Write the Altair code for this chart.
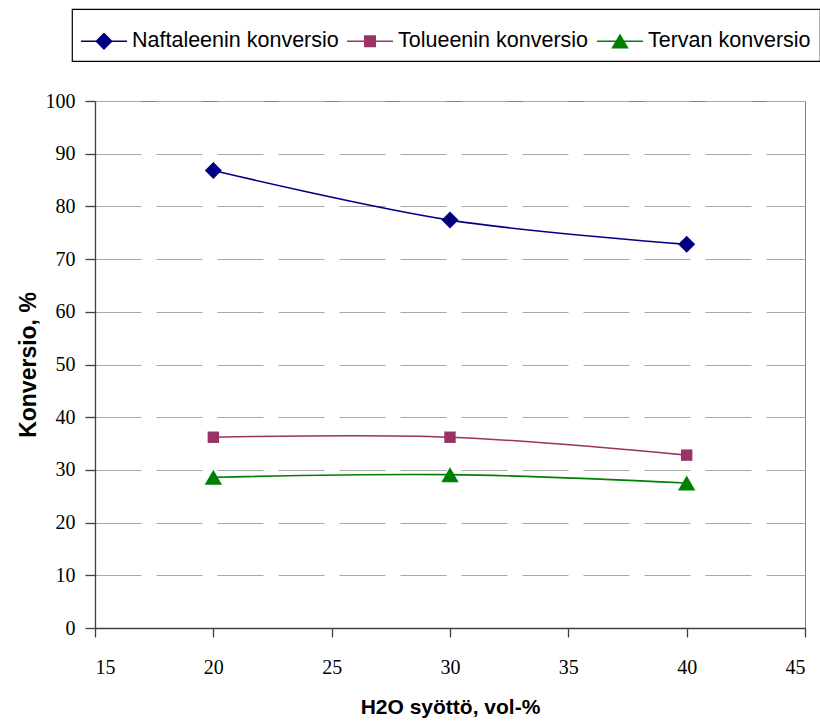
import altair as alt
import pandas as pd

# ---- data ----
x_vals = [20, 30, 40]
naftaleeni = [86.8, 77.4, 72.8]
tolueeni = [36.2, 36.2, 32.8]
terva = [28.6, 29.1, 27.5]

series_names = ["Naftaleenin konversio", "Tolueenin konversio", "Tervan konversio"]
series_values = [naftaleeni, tolueeni, terva]
series_colors = ["#000080", "#993366", "#008000"]
series_shapes = ["diamond", "square", "triangle-up"]
series_sizes = [290, 130, 300]

x_ticks = [15, 20, 25, 30, 35, 40, 45]
y_ticks = [0, 10, 20, 30, 40, 50, 60, 70, 80, 90, 100]

# legend symbols: line segment + marker (custom SVG paths in unit box)
legend_paths = [
    "M-1,-0.035H1V0.035H-1Z M0,-0.38L0.38,0L0,0.38L-0.38,0Z",
    "M-1,-0.035H1V0.035H-1Z M-0.26,-0.26H0.26V0.26H-0.26Z",
    "M-1,-0.035H1V0.035H-1Z M0,-0.34L0.38,0.32H-0.38Z",
]

rows = []
for name, vals in zip(series_names, series_values):
    for xv, yv in zip(x_vals, vals):
        rows.append({"serie": name, "x": xv, "y": yv})
df = pd.DataFrame(rows)
legend_df = pd.DataFrame({"serie": series_names})

SERIF = "Liberation Serif"

x_enc = alt.X(
    "x:Q",
    scale=alt.Scale(domain=[15, 45], nice=False, zero=False),
    axis=alt.Axis(
        title="H2O syöttö, vol-%",
        values=x_ticks,
        grid=False,
        tickSize=9,
        labelPadding=20,
        labelFont=SERIF,
        labelFontSize=20,
        titlePadding=19,
        titleFontSize=21,
    ),
)
y_enc = alt.Y(
    "y:Q",
    scale=alt.Scale(domain=[0, 100], nice=False),
    axis=alt.Axis(
        title="Konversio, %",
        values=y_ticks,
        grid=True,
        gridColor="#a8a8a8",
        gridDash=[46, 15],
        gridWidth=1,
        tickSize=10,
        labelPadding=10,
        labelFont=SERIF,
        labelFontSize=20,
        titlePadding=5,
        titleFontSize=23,
    ),
)

layers = []
for name, color in zip(series_names, series_colors):
    layers.append(
        alt.Chart(df)
        .transform_filter(alt.datum.serie == name)
        .mark_line(color=color, strokeWidth=1.6, interpolate="catmull-rom")
        .encode(x=x_enc, y=y_enc)
    )
for name, color, shp, sz in zip(series_names, series_colors, series_shapes, series_sizes):
    layers.append(
        alt.Chart(df)
        .transform_filter(alt.datum.serie == name)
        .mark_point(filled=True, shape=shp, size=sz, color=color, opacity=1, strokeWidth=0)
        .encode(x=x_enc, y=y_enc)
    )

legend_layer = (
    alt.Chart(legend_df)
    .transform_filter("false")
    .mark_point(filled=True, opacity=1, strokeWidth=0)
    .encode(
        color=alt.Color(
            "serie:N",
            scale=alt.Scale(domain=series_names, range=series_colors),
            title=None,
        ),
        shape=alt.Shape(
            "serie:N",
            scale=alt.Scale(domain=series_names, range=legend_paths),
            title=None,
        ),
    )
)
layers.append(legend_layer)

chart = (
    alt.layer(*layers)
    .properties(
        width=710,
        height=527,
        background="white",
        autosize=alt.AutoSizeParams(type="none"),
        padding={"left": 95, "top": 101, "right": 15, "bottom": 96},
    )
    .configure_view(stroke="#808080", strokeWidth=1)
    .configure_axis(
        labelFont=SERIF,
        labelFontSize=20,
        labelColor="black",
        titleFont="Liberation Sans",
        titleFontSize=20,
        titleFontWeight="bold",
        titleColor="black",
        domainColor="#404040",
        domainWidth=1.3,
        tickColor="#404040",
        tickWidth=1.3,
    )
    .configure_legend(
        orient="none",
        legendX=-23,
        legendY=-92,
        direction="horizontal",
        strokeColor="black",
        strokeWidth=1.2,
        fillColor="white",
        padding=9,
        labelFont="Liberation Sans",
        labelFontSize=21.5,
        labelColor="black",
        labelLimit=500,
        labelOffset=5,
        columnPadding=8,
        symbolSize=2116,
        symbolStrokeWidth=0,
        symbolOpacity=1,
    )
)

chart.save("out.html", embed_options={"renderer": "svg", "actions": False})
